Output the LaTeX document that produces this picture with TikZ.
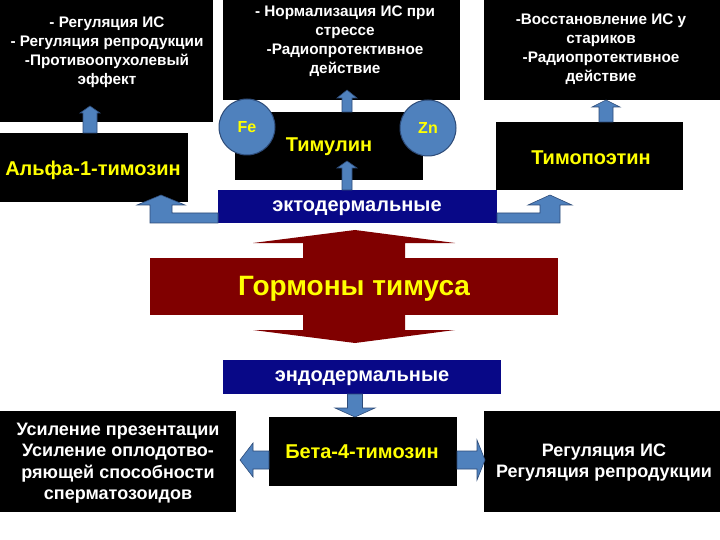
\documentclass[tikz,border=0pt]{standalone}
\usepackage{fontspec}
\setmainfont{Liberation Sans}
\usetikzlibrary{calc}
\definecolor{navyb}{RGB}{8,8,135}
\definecolor{steel}{RGB}{79,129,189}
\definecolor{steeld}{RGB}{45,75,120}
\definecolor{thymred}{RGB}{128,0,0}
\definecolor{ylw}{RGB}{255,255,0}
\tikzset{
 blackbox/.style={fill=black, draw=none, anchor=north west, inner sep=0pt, outer sep=0pt},
 navybox/.style={fill=navyb, draw=none, anchor=north west, inner sep=0pt, outer sep=0pt},
 wtxt/.style={text=white, font=\bfseries\fontsize{15.3}{19}\selectfont, align=center, inner sep=0pt},
 btxt/.style={text=white, font=\bfseries\fontsize{18}{21.5}\selectfont, align=center, inner sep=0pt},
 ytxt/.style={text=ylw, font=\bfseries\fontsize{20}{22}\selectfont, inner sep=0pt},
 ltxt/.style={text=white, font=\bfseries\fontsize{20}{22}\selectfont, inner sep=0pt},
 blockarrow/.style={fill=steel, draw=steeld, line width=0.6pt, line join=miter},
 metal/.style={circle, fill=steel, draw=steeld, line width=1pt, minimum size=56pt, inner sep=0pt, text=ylw, font=\bfseries\fontsize{16}{18}\selectfont}
}
% vertical / horizontal block arrows: #1 source anchor, #2 tip coordinate, #3 shaft half, #4 head half, #5 head length
\newcommand{\blkup}[5]{\path[blockarrow] let \p1=(#1), \p2=(#2) in (\x2-#3,\y1) -- (\x2-#3,\y2-#5) -- (\x2-#4,\y2-#5) -- (\x2,\y2) -- (\x2+#4,\y2-#5) -- (\x2+#3,\y2-#5) -- (\x2+#3,\y1) -- cycle;}
\newcommand{\blkdown}[5]{\path[blockarrow] let \p1=(#1), \p2=(#2) in (\x2-#3,\y1) -- (\x2-#3,\y2+#5) -- (\x2-#4,\y2+#5) -- (\x2,\y2) -- (\x2+#4,\y2+#5) -- (\x2+#3,\y2+#5) -- (\x2+#3,\y1) -- cycle;}
\newcommand{\blkleft}[5]{\path[blockarrow] let \p1=(#1), \p2=(#2) in (\x1,\y2-#3) -- (\x2+#5,\y2-#3) -- (\x2+#5,\y2-#4) -- (\x2,\y2) -- (\x2+#5,\y2+#4) -- (\x2+#5,\y2+#3) -- (\x1,\y2+#3) -- cycle;}
\newcommand{\blkright}[5]{\path[blockarrow] let \p1=(#1), \p2=(#2) in (\x1,\y2-#3) -- (\x2-#5,\y2-#3) -- (\x2-#5,\y2-#4) -- (\x2,\y2) -- (\x2-#5,\y2+#4) -- (\x2-#5,\y2+#3) -- (\x1,\y2+#3) -- cycle;}
\begin{document}
\begin{tikzpicture}[x=1pt,y=-1pt]
\useasboundingbox (0,0) rectangle (720,540);
\fill[white] (0,0) rectangle (720,540);
% boxes
\node[blackbox, minimum width=213pt, minimum height=122pt] (tl) at (0,0) {};
\node[blackbox, minimum width=237pt, minimum height=100pt] (tm) at (223,0) {};
\node[blackbox, minimum width=236pt, minimum height=100pt] (tr) at (484,0) {};
\node[blackbox, minimum width=188pt, minimum height=69pt] (alpha) at (0,133) {};
\node[blackbox, minimum width=188pt, minimum height=68pt] (timulin) at (235,112) {};
\node[blackbox, minimum width=187pt, minimum height=68pt] (timo) at (496,122) {};
\node[navybox, minimum width=279pt, minimum height=33pt] (ecto) at (218,190) {};
\node[navybox, minimum width=278pt, minimum height=34pt] (endo) at (223,360) {};
\node[blackbox, minimum width=188pt, minimum height=69pt] (beta) at (269,417) {};
\node[blackbox, minimum width=236pt, minimum height=101pt] (bl) at (0,411) {};
\node[blackbox, minimum width=236pt, minimum height=101pt] (br) at (484,411) {};
% big red double arrow
\node[fill=thymred, anchor=north west, inner sep=0pt, minimum width=408pt, minimum height=57pt] (horm) at (150,258) {};
\coordinate (hup) at (355,230);
\coordinate (hdown) at (355,343);
\fill[thymred] let \p1=(horm.north), \p2=(hup) in (\x2-52pt,\y1-1pt) -- (\x2-52pt,\y2-13pt) -- (\x2-102pt,\y2-13pt) -- (\x2,\y2) -- (\x2+100pt,\y2-13pt) -- (\x2+50pt,\y2-13pt) -- (\x2+50pt,\y1-1pt) -- cycle;
\fill[thymred] let \p1=(horm.south), \p2=(hdown) in (\x2-52pt,\y1+1pt) -- (\x2-52pt,\y2+13pt) -- (\x2-102pt,\y2+13pt) -- (\x2,\y2) -- (\x2+100pt,\y2+13pt) -- (\x2+50pt,\y2+13pt) -- (\x2+50pt,\y1+1pt) -- cycle;
% block arrows
\coordinate (t1) at (90,106);
\blkup{alpha.north}{t1}{7pt}{10pt}{7pt}
\coordinate (t2) at (347,161);
\blkup{ecto.north}{t2}{5pt}{10pt}{7pt}
\coordinate (t3) at (347,90);
\blkup{timulin.north}{t3}{5pt}{10pt}{8pt}
\coordinate (t4) at (606,100);
\blkup{timo.north}{t4}{7pt}{14pt}{7pt}
\coordinate (t5) at (355,417);
\blkdown{endo.south}{t5}{7.5pt}{20pt}{9pt}
\coordinate (t6) at (240,460);
\blkleft{beta.west}{t6}{9pt}{17pt}{13pt}
\coordinate (t7) at (485,460);
\blkright{beta.east}{t7}{9pt}{20pt}{8pt}
% elbow arrows
\coordinate (t8) at (161,195);
\path[blockarrow] let \p1=(ecto.south west), \p2=(t8) in (\x1,\y1+10pt) -- (\x2+11pt,\y1+10pt) -- (\x2+11pt,\y2-10pt) -- (\x2+24pt,\y2-10pt) -- (\x2,\y2) -- (\x2-24pt,\y2-10pt) -- (\x2-11pt,\y2-10pt) -- (\x2-11pt,\y1) -- (\x1,\y1) -- cycle;
\coordinate (t9) at (550,195);
\path[blockarrow] let \p1=(ecto.south east), \p2=(t9) in (\x1,\y1+10pt) -- (\x2-10pt,\y1+10pt) -- (\x2-10pt,\y2-10pt) -- (\x2-22pt,\y2-10pt) -- (\x2,\y2) -- (\x2+22pt,\y2-10pt) -- (\x2+10pt,\y2-10pt) -- (\x2+10pt,\y1) -- (\x1,\y1) -- cycle;
% metal circles
\node[metal] (fe) at (247,127) {Fe};
\node[metal] (zn) at (428,128) {Zn};
% texts
\node[wtxt] (tltxt) at (107,52) {- Регуляция ИС\\- Регуляция репродукции\\-Противоопухолевый\\эффект};
\node[wtxt] (tmtxt) at (345,41.5) {- Нормализация ИС при\\стрессе\\-Радиопротективное\\действие};
\node[wtxt] (trtxt) at (601,49.5) {-Восстановление ИС у\\стариков\\-Радиопротективное\\действие};
\node[ytxt] (alphatxt) at (93,170) {Альфа-1-тимозин};
\node[ytxt] (timultxt) at (329,147) {Тимулин};
\node[ytxt] (timotxt) at (591,158) {Тимопоэтин};
\node[ltxt] (ectotxt) at (357,208) {эктодермальные};
\node[text=ylw, font=\bfseries\fontsize{28}{30}\selectfont, inner sep=0pt] (hormtxt) at (354,289) {Гормоны тимуса};
\node[ltxt] (endotxt) at (362,378) {эндодермальные};
\node[ytxt] (betatxt) at (362,452) {Бета-4-тимозин};
\node[btxt] (bltxt) at (118,463) {Усиление презентации\\Усиление оплодотво-\\ряющей способности\\сперматозоидов};
\node[btxt] (brtxt) at (604,462.5) {Регуляция ИС\\Регуляция репродукции};
\end{tikzpicture}
\end{document}
